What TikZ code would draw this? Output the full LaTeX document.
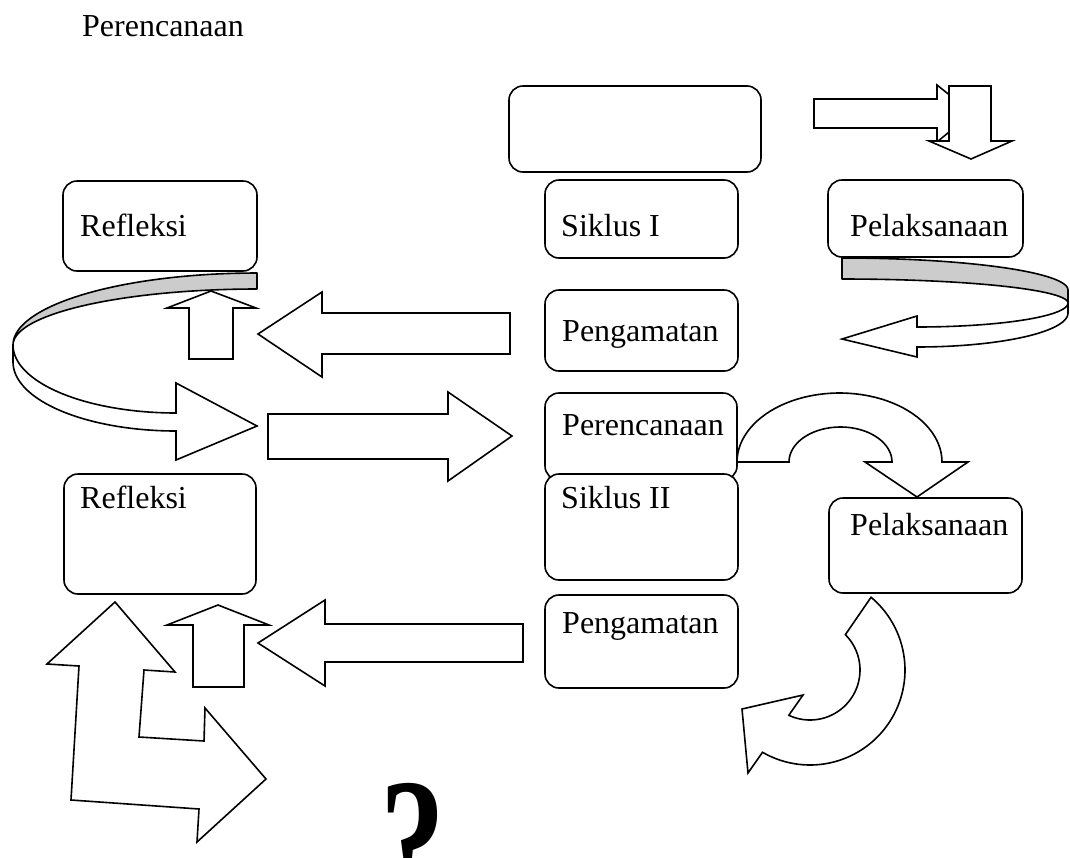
\documentclass[tikz,border=0pt]{standalone}
\usepackage{fontspec}
\setmainfont{Liberation Serif}
\definecolor{bandgray}{RGB}{204,204,204}
\begin{document}
\begin{tikzpicture}[x=1pt,y=-1pt,
  box/.style={draw, line width=1.6pt, rounded corners=14pt, fill=white, inner sep=0pt, outer sep=0pt, anchor=north west},
  lbl/.style={anchor=base west, inner sep=0pt, font=\fontsize{32}{38}\selectfont},
  blk/.style={draw, line width=1.6pt, fill=white, line join=miter},
  band/.style={draw, line width=1.6pt, fill=bandgray, line join=round},
  wband/.style={draw, line width=1.6pt, fill=white, line join=miter},
]
\clip (0,0) rectangle (1070,857);
\useasboundingbox (0,0) rectangle (1070,857);

% title
\node[lbl] (title) at (82,36) {Perencanaan};

% top right arrows
\draw[blk] (814,99) -- (937,99) -- (937,85) -- (972,113) -- (937,142) -- (937,128) -- (814,128) -- cycle;
\draw[blk] (949,86) -- (991,86) -- (991,141) -- (1012,141) -- (971,159) -- (929,141) -- (949,141) -- cycle;

% up arrow under Refleksi 1
\draw[blk] (189,359) -- (189,308) -- (167,308) -- (211,291) -- (256,308) -- (233,308) -- (233,359) -- cycle;

% left ribbon arrow
\draw[band] plot[domain=270:180, samples=40] ({257+244*cos(\x)},{345+72*sin(\x)})
  -- plot[domain=180:270, samples=40] ({257+244*cos(\x)},{345+56*sin(\x)}) -- cycle;
\draw[wband] (13,345) -- (13,362)
  -- plot[domain=180:90, samples=40] ({176+163*cos(\x)},{362+69*sin(\x)})
  -- (176,460) -- (257,426) -- (176,383) -- (176,413)
  -- plot[domain=90:180, samples=40] ({176+163*cos(\x)},{345+68*sin(\x)}) -- cycle;

% left arrow from Pengamatan 1
\draw[blk] (510,313) -- (322,313) -- (322,292) -- (258,334) -- (322,377) -- (322,354) -- (510,354) -- cycle;

% right arrow to Perencanaan 2
\draw[blk] (268,414) -- (448,414) -- (448,392) -- (512,436) -- (448,481) -- (448,459) -- (268,459) -- cycle;

% right ribbon arrow
\draw[band] plot[domain=270:360, samples=40] ({842+226*cos(\x)},{290+32*sin(\x)}) -- (1068,303)
  -- plot[domain=360:270, samples=40] ({842+226*cos(\x)},{303+24*sin(\x)}) -- cycle;
\draw[wband] (1068,303) -- (1068,313)
  -- plot[domain=0:90, samples=40] ({917+151*cos(\x)},{313+34*sin(\x)})
  -- (917,357) -- (842,339) -- (917,316) -- (917,327)
  -- plot[domain=90:0, samples=40] ({917+151*cos(\x)},{303+24*sin(\x)}) -- cycle;

% curved arrow Perencanaan 2 -> Pelaksanaan 2
\draw[blk] (737,462) -- plot[domain=180:360, samples=50] ({839.5+102.5*cos(\x)},{462+69*sin(\x)})
  -- (968,462) -- (917,497) -- (865,462)
  -- plot[domain=360:180, samples=50] ({840.5+51.5*cos(\x)},{462+35*sin(\x)}) -- cycle;

% curved arrow below Pelaksanaan 2
\draw[blk] plot[domain=-50:120, samples=60] ({810+95*cos(\x)},{670+95*sin(\x)})
  -- (748,773) -- (742,709) -- (803,695) -- (789,715)
  -- plot[domain=115:-45, samples=50] ({810+50*cos(\x)},{670+50*sin(\x)}) -- cycle;

% left arrow from Pengamatan 2
\draw[blk] (523,624) -- (325,624) -- (325,600) -- (258,643) -- (325,686) -- (325,662) -- (523,662) -- cycle;

% small up arrow under Refleksi 2
\draw[blk] (193,687) -- (193,625) -- (167,625) -- (218,605) -- (269,625) -- (244,625) -- (244,687) -- cycle;

% bent arrow
\draw[blk] (115,602) -- (175,672) -- (144,670) -- (139,737) -- (204,741) -- (205,708) -- (266,779)
  -- (197,842) -- (199,809) -- (71,800) -- (79,666) -- (47,664) -- cycle;

% boxes
\node[box, minimum width=252pt, minimum height=86pt] (top) at (509,86) {};
\node[box, minimum width=193pt, minimum height=78pt] (sik1) at (545,180) {};
\node[box, minimum width=194pt, minimum height=90pt] (ref1) at (63,181) {};
\node[box, minimum width=195pt, minimum height=77pt] (pel1) at (828,180) {};
\node[box, minimum width=193pt, minimum height=81pt] (peng1) at (545,290) {};
\node[box, minimum width=192pt, minimum height=87pt] (per2) at (545,393) {};
\node[box, minimum width=192pt, minimum height=120pt] (ref2) at (64,474) {};
\node[box, minimum width=193pt, minimum height=106pt] (sik2) at (545,474) {};
\node[box, minimum width=193pt, minimum height=95pt] (pel2) at (829,498) {};
\node[box, minimum width=193pt, minimum height=93pt] (peng2) at (545,595) {};

% labels
\node[lbl] (tref1) at (80,236) {Refleksi};
\node[lbl] (tsik1) at (561,236) {Siklus I};
\node[lbl] (tpel1) at (850,236) {Pelaksanaan};
\node[lbl] (tpeng1) at (562,341) {Pengamatan};
\node[lbl] (tper2) at (562,435) {Perencanaan};
\node[lbl] (tref2) at (80,508) {Refleksi};
\node[lbl] (tsik2) at (561,508) {Siklus II};
\node[lbl] (tpel2) at (850,535) {Pelaksanaan};
\node[lbl] (tpeng2) at (562,633) {Pengamatan};

% question mark
\node[anchor=base, inner sep=0pt, font=\bfseries\fontsize{180}{180}\selectfont] (qm) at (413,902) {\scalebox{0.72}[1]{?}};
\end{tikzpicture}
\end{document}
